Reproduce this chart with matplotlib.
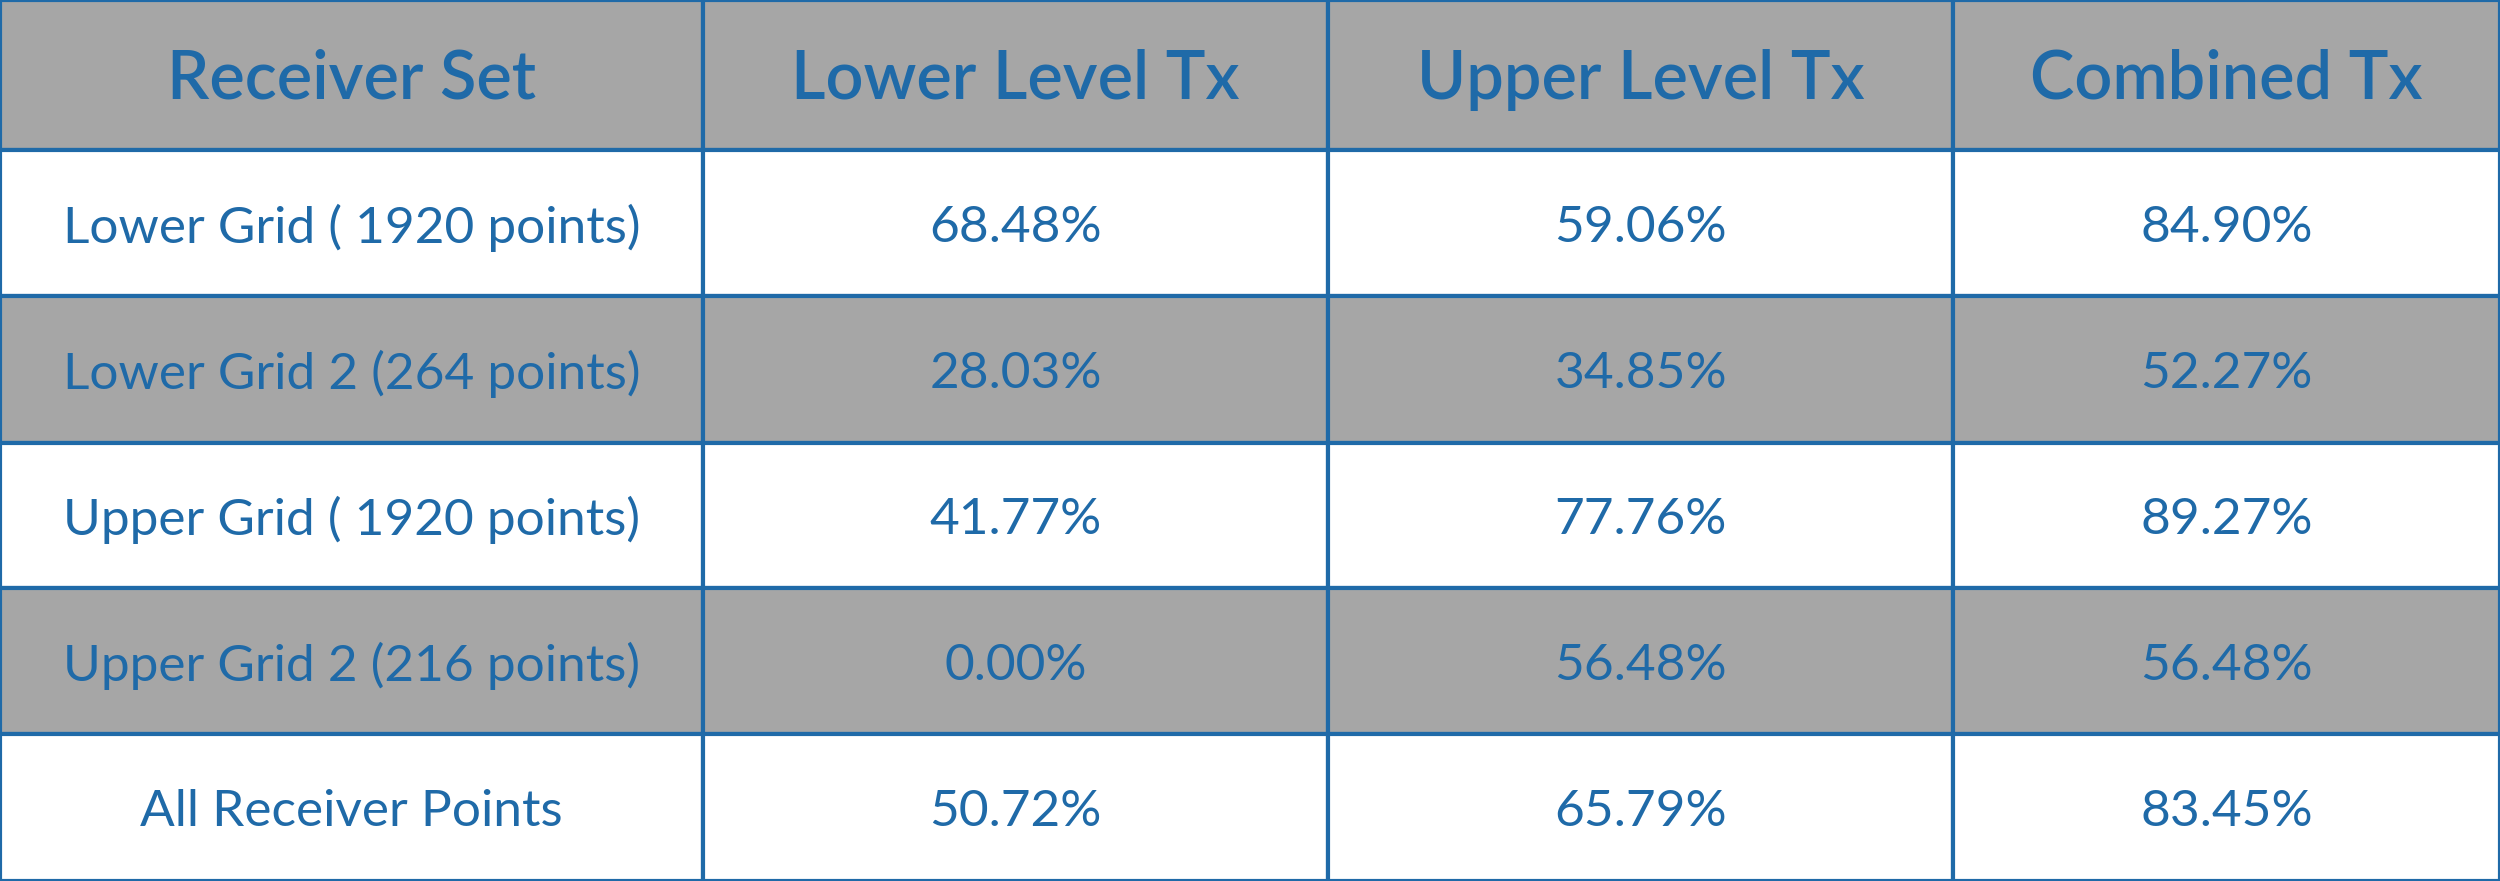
import matplotlib
matplotlib.use("Agg")
import matplotlib.pyplot as plt
from matplotlib.patches import Rectangle

headers = ["Receiver Set", "Lower Level Tx", "Upper Level Tx", "Combined Tx"]
receiver_sets = ["Lower Grid ( 1920 points)", "Lower Grid 2 (264 points)",
                 "Upper Grid ( 1920 points)", "Upper Grid 2 (216 points)",
                 "All Receiver Points"]
lower_tx = ["68.48%", "28.03%", "41.77%", "0.00%", "50.72%"]
upper_tx = ["59.06%", "34.85%", "77.76%", "56.48%", "65.79%"]
combined_tx = ["84.90%", "52.27%", "89.27%", "56.48%", "83.45%"]

BLUE = "#1f6aa8"
GRAY = "#a6a6a6"

fig = plt.figure(figsize=(25, 8.81), dpi=100)
ax = fig.add_axes([0, 0, 1, 1])
W, H = 1568, 553
ax.set_xlim(0, W); ax.set_ylim(H, 0); ax.axis("off")
xs = [0, 441, 833, 1225, 1568]
ys = [0, 94, 186, 278, 369, 461, 553]

rows = [headers] + [list(r) for r in zip(receiver_sets, lower_tx, upper_tx, combined_tx)]
for i, row in enumerate(rows):
    fill = GRAY if i % 2 == 0 else "white"
    for j, txt in enumerate(row):
        ax.add_patch(Rectangle((xs[j], ys[i]), xs[j+1]-xs[j], ys[i+1]-ys[i],
                               facecolor=fill, edgecolor=BLUE, lw=3))
        cx = (xs[j] + xs[j+1]) / 2; cy = (ys[i] + ys[i+1]) / 2 + 3
        if i == 0:
            ax.text(cx, cy, txt, ha="center", va="center", color=BLUE,
                    fontsize=48, fontfamily="Lato", fontweight="semibold")
        else:
            ax.text(cx, cy, txt, ha="center", va="center", color=BLUE,
                    fontsize=37, fontfamily="Lato", fontweight="normal")
fig.savefig("out.png", dpi=100)
